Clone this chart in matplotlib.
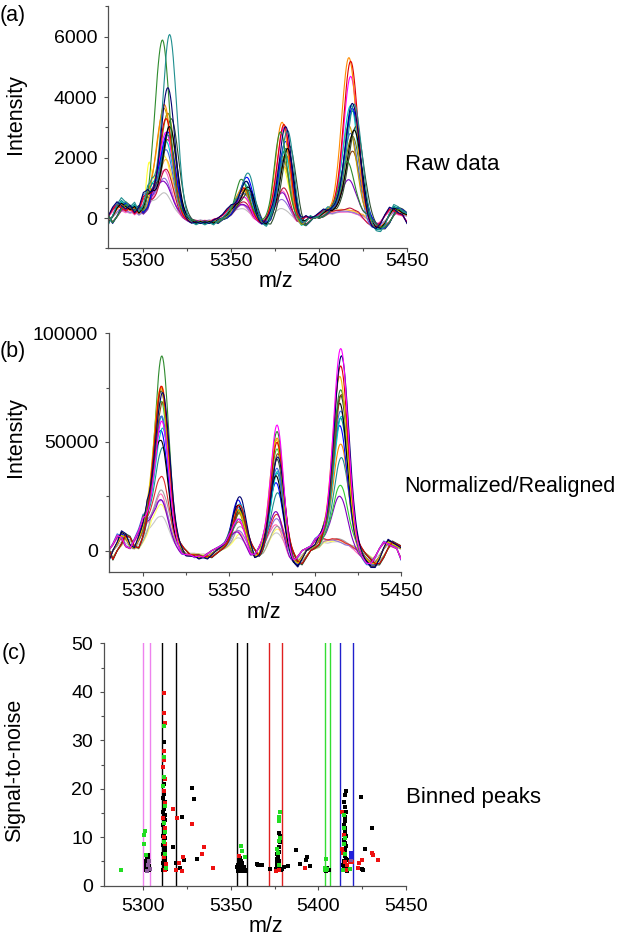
import numpy as np
import matplotlib
matplotlib.use('Agg')
import matplotlib.pyplot as plt
from matplotlib.ticker import MultipleLocator

plt.rcParams['font.family'] = ['Liberation Sans', 'DejaVu Sans']

W, H = 622, 939

# ---------------- data: panel (a) raw spectra ----------------
mz_start, mz_stop, mz_step = 5280, 5450, 2.5
raw_baseline = [-150, 50, 300, 450, 350, 250, 350, 150, 300, 700,
                750, 500, 350, 300, 250, 200, 150, 50, -50, -100,
                -150, -100, -150, -100, -150, -50, 0, 100, 250, 350,
                300, 250, 150, 50, -100, -150, -200, -50, 50, 50,
                0, 0, -50, -200, -250, -100, 50, 0, 50, 150,
                250, 200, 250, 250, 200, 150, 150, 100, 100, -50,
                -200, -300, -300, -150, 100, 300, 250, 150, 100]
raw_centers = [5303, 5312, 5357, 5379, 5417]
raw_widths = [1.5, 3.9, 3.3, 3.7, 4.1]
raw_colors = ['#c0c0c0', '#ffff33', '#ff66cc', '#9370db', '#8000c0', '#ffb040',
              '#c0143c', '#808000', '#8b4513', '#4169e1', '#c8a000', '#00c8c8',
              '#ff00ff', '#2f4f2f', '#008b8b', '#0000ff', '#ff8c00', '#e00000',
              '#000000', '#2e8b2e', '#1f8f8f', '#00006e']
raw_shift = [0, 0, 0, 0, 0, 1, 1, 2, 2, 1, 0, 1, 1, 4, 2, 2, 0, 1, 3, -1, 3, 2]
raw_h0 = [0, 1400, 0, 0, 0, 0, 0, 0, 0, 0, 0, 0, 0, 0, 0, 0, 0, 0, 0, 0, 0, 0]
raw_h1 = [650, 1750, 1400, 1100, 900, 1650, 1400, 3150, 2300, 2000, 3250,
          2200, 2600, 2950, 2400, 2500, 3450, 3050, 2750, 5450, 5700, 4050]
raw_h2 = [150, 450, 300, 250, 200, 550, 400, 650, 750, 650, 600,
          850, 550, 650, 950, 1050, 750, 850, 850, 950, 1250, 1100]
raw_h3 = [300, 1700, 900, 600, 800, 1700, 1000, 2000, 2100, 1900, 2000,
          2200, 3000, 2400, 2300, 2500, 3150, 3100, 2300, 2800, 2900, 3050]
raw_h4 = [100, 100, 100, 100, 1100, 100, 200, 2550, 2050, 2650, 2850,
          3550, 4550, 2850, 3350, 3450, 5150, 5050, 2750, 1650, 3550, 3650]
raw_bscale = [0.6, 0.8, 0.7, 0.7, 0.8, 1.0, 0.9, 1.0, 1.1, 1.1, 1.0,
              1.2, 1.0, 1.2, 1.3, 1.1, 1.0, 1.0, 1.1, 1.0, 1.5, 1.2]
raw_roll = [0, 1, -1, 0, 1, 0, -1, 1, 0, -1, 1, 0, -1, 1, 0, 1, 0, -1, 0, 1, 0, -1]

# ---------------- data: panel (b) normalized / realigned ----------------
norm_baseline = [-4000, 0, 3000, 7000, 6000, 2000, 1000, 5000, 9000, 14000,
                 12000, 9000, 5000, 4000, 3000, 2000, 1500, 0, -2000, -2000,
                 -2000, -3000, -2500, -3000, -1500, 0, 1000, 2000, 3000, 5000,
                 5000, 4000, 2000, 0, -3000, -2000, 1000, 3000, 3000, 2000,
                 1000, 0, -2000, -5000, -6000, -3000, 0, 1000, 2000, 5000,
                 6000, 5000, 5000, 4000, 3000, 2000, 2000, 1000, 0, -2000,
                 -4000, -6000, -6000, -3000, 1000, 4000, 3000, 2000, 1000]
norm_centers = [5311, 5356, 5378, 5415]
norm_widths = [4.0, 3.4, 3.6, 4.2]
norm_colors = ['#c8c8c8', '#ffff66', '#ff69b4', '#9370db', '#a0a0a0', '#e03030',
               '#8000c0', '#32cd32', '#1f8f8f', '#ff8c00', '#0000ff', '#008b8b',
               '#00c8c8', '#4169e1', '#000000', '#2f4f2f', '#8b4513', '#2e8b2e',
               '#e6c200', '#e00000', '#00006e', '#ff00ff']
norm_shift = [0, 0.5, -0.5, 0, 0.5, 0, -0.5, 0, 0.5, 0, -0.5, 0, 0.5, 0, -0.5, 0, 0.5, 0, -0.5, 0, 0.5, 0]
norm_h1 = [13000, 16000, 23000, 19000, 22000, 30000, 20000, 61000, 43000, 72000, 50000,
           54000, 52000, 58000, 45000, 65000, 64000, 86000, 70000, 68000, 67000, 56000]
norm_h2 = [3000, 4000, 6000, 5000, 7000, 9000, 5000, 12000, 10000, 14000, 18000,
           14000, 17000, 16000, 15000, 13000, 13000, 15000, 14000, 16000, 19000, 11000]
norm_h3 = [7000, 8000, 11000, 13000, 9000, 15000, 17000, 44000, 25000, 51000, 29000,
           33000, 35000, 37000, 32000, 39000, 43000, 54000, 49000, 47000, 41000, 57000]
norm_h4 = [2000, 1500, 3000, 1000, 2000, 2000, 23000, 26000, 40000, 47000, 54000,
           57000, 59000, 62000, 64000, 67000, 69000, 72000, 77000, 81000, 86000, 91000]
norm_bscale = [0.6, 0.7, 0.8, 0.9, 0.8, 0.9, 0.9, 1.0, 1.0, 1.0, 1.1,
               1.0, 1.0, 1.1, 1.2, 1.1, 1.0, 1.0, 1.0, 1.0, 1.3, 1.0]
norm_roll = [0, 1, -1, 0, 1, 0, -1, 1, 0, -1, 0, 1, 0, -1, 0, 1, 0, -1, 0, 1, 0, -1]

# ---------------- data: panel (c) binned peaks ----------------
bin_edges = [5300, 5303.8, 5310.8, 5318.7, 5353.3, 5359.4, 5371.6, 5379.4,
             5403.7, 5406.8, 5412.3, 5419.9]
bin_colors = ['#ee82ee', '#ee82ee', '#000000', '#000000', '#000000', '#000000',
              '#e02020', '#e02020', '#33dd33', '#33dd33', '#2020cc', '#2020cc']

black_mz = [5301.5, 5302.0, 5302.5, 5301.8, 5302.3, 5302.8, 5301.6, 5302.1, 5302.6, 5302.2,
            5302.5, 5303.0, 5303.2, 5301.3, 5303.1, 5301.4,
            5311.4, 5312.0, 5311.7, 5312.3, 5311.2, 5311.9, 5312.5, 5311.5, 5312.1, 5311.3,
            5311.8, 5312.4, 5311.6, 5312.2, 5311.4, 5312.0, 5311.7, 5312.3, 5311.2, 5311.9,
            5312.5, 5311.5, 5312.1, 5311.3, 5311.8, 5312.4, 5311.6, 5312.2, 5311.4, 5312.0,
            5311.7, 5312.3, 5311.2, 5311.9, 5311.6, 5312.6, 5312.8, 5311.5,
            5321.9, 5328.0, 5329.0, 5330.5, 5316.8, 5323.1, 5318.7, 5320.8,
            5354.0, 5354.6, 5355.2, 5355.8, 5354.3, 5355.0, 5355.6, 5354.4, 5355.3, 5354.8,
            5356.3, 5356.8, 5357.3, 5357.8, 5358.3, 5356.5, 5353.7, 5356.0,
            5365.5, 5367.6, 5372.3, 5364.7,
            5376.0, 5376.5, 5377.0, 5377.5, 5376.3, 5376.8, 5377.3, 5376.6, 5377.0, 5376.4,
            5377.2, 5377.7, 5377.9, 5377.7, 5378.0, 5378.5, 5379.0, 5375.8, 5376.2,
            5382.4, 5380.5, 5387.2, 5389.5, 5393.6, 5392.9, 5395.2,
            5404.3, 5405.3, 5404.8, 5405.8,
            5415.7, 5415.4, 5414.6, 5415.0, 5415.6, 5415.2, 5415.4, 5414.8, 5415.3, 5415.0,
            5415.5, 5414.7, 5415.2, 5415.6, 5414.9, 5415.4, 5415.0, 5415.8, 5414.6, 5415.3,
            5416.0, 5414.8, 5415.5, 5416.3, 5417.0, 5414.3, 5416.4,
            5424.3, 5430.6, 5426.6, 5425.3, 5424.6]
black_snr = [3.2, 3.5, 3.8, 4.1, 4.4, 4.7, 5.0, 5.3, 5.7, 6.1,
             6.4, 3.3, 4.0, 3.6, 5.1, 4.5,
             3.2, 3.6, 4.0, 4.3, 4.7, 5.0, 5.4, 5.8, 6.1, 6.5,
             6.9, 7.3, 7.7, 8.0, 8.4, 8.9, 9.3, 9.8, 10.2, 10.7,
             11.1, 11.6, 12.0, 12.5, 13.0, 13.5, 14.0, 14.6, 15.2, 15.8,
             16.5, 17.2, 18.0, 19.0, 29.7, 4.2, 3.5, 21.0,
             14.2, 20.2, 17.9, 5.6, 8.0, 5.2, 4.7, 3.6,
             3.0, 3.3, 3.6, 3.9, 4.2, 4.5, 4.9, 5.3, 5.7, 6.1,
             3.1, 3.4, 3.8, 3.2, 3.0, 4.6, 3.8, 5.0,
             4.3, 4.3, 3.4, 4.4,
             3.0, 3.3, 3.6, 3.9, 4.3, 4.7, 5.1, 5.5, 6.0, 6.5,
             7.0, 8.0, 9.0, 10.8, 10.3, 3.2, 3.5, 3.4, 5.0,
             4.1, 3.9, 7.4, 4.4, 6.0, 5.3, 4.1,
             3.1, 3.3, 3.6, 3.2,
             19.5, 18.7, 17.3, 16.3, 15.3, 14.2, 13.4, 12.6, 11.8, 11.0,
             10.2, 9.5, 8.8, 8.1, 7.4, 6.8, 6.2, 5.6, 5.1, 4.6,
             4.1, 3.7, 3.3, 3.0, 3.4, 4.3, 5.4,
             18.2, 11.9, 7.6, 3.2, 3.4]
red_mz = [5311.8, 5311.5, 5312.2, 5311.6, 5311.9, 5311.3, 5312.1, 5311.7, 5312.4, 5311.4,
          5312.2, 5312.0, 5312.5, 5311.6, 5312.8, 5312.2,
          5317.1, 5319.4, 5328.0, 5334.8, 5333.4, 5322.5, 5320.2, 5322.1, 5318.7, 5339.6,
          5354.5, 5376.0, 5377.4, 5392.5,
          5413.6, 5413.5, 5414.2, 5414.9, 5416.5, 5416.0, 5414.5,
          5430.4, 5431.3, 5433.8, 5425.1, 5423.3, 5422.4, 5418.0, 5419.0]
red_snr = [39.8, 35.6, 33.5, 27.8, 25.9, 24.5, 22.0, 19.5, 17.0, 14.0,
           12.0, 10.0, 8.5, 6.0, 4.5, 3.3,
           15.8, 13.9, 12.8, 8.0, 6.5, 5.9, 4.6, 3.0, 3.2, 3.7,
           6.2, 3.1, 3.3, 3.6,
           15.2, 7.5, 6.8, 4.9, 4.3, 3.2, 10.5,
           6.8, 6.3, 5.4, 5.4, 4.7, 3.7, 4.9, 4.8]
green_mz = [5287.1, 5300.9, 5300.6, 5300.6, 5301.5,
            5311.7, 5311.5, 5312.0, 5311.3, 5312.3, 5311.8, 5312.4, 5311.5, 5312.6, 5312.9,
            5356.0, 5356.2, 5358.0,
            5378.2, 5377.5, 5377.3, 5378.0, 5377.5, 5376.5, 5376.8, 5377.2,
            5403.8, 5404.1, 5404.5, 5405.0, 5403.5,
            5414.6, 5414.8, 5415.0, 5414.4, 5415.2, 5414.0, 5418.0]
green_snr = [3.2, 11.3, 10.5, 8.6, 6.3,
             33.0, 26.5, 22.5, 20.5, 16.5, 13.0, 11.0, 9.0, 6.5, 3.6,
             8.2, 7.2, 5.9,
             15.3, 14.2, 13.3, 9.9, 9.2, 7.5, 6.8, 4.2,
             3.6, 5.6, 3.3, 3.5, 3.2,
             14.5, 12.0, 9.8, 8.5, 6.5, 3.3, 3.4]
purple_mz = [5302.8, 5303.5, 5303.3, 5301.9, 5418.5]
purple_snr = [4.3, 3.5, 5.0, 3.1, 5.2]
blue_mz = [5418.8, 5418.6]
blue_snr = [6.7, 5.9]

# ---------------- figure ----------------
fig = plt.figure(figsize=(W / 100, H / 100), dpi=100)

def rect(left, right, top, bottom):
    return [left / W, 1 - bottom / H, (right - left) / W, (bottom - top) / H]

ax_a = fig.add_axes(rect(108.2, 407, 6.5, 248.3))
ax_b = fig.add_axes(rect(108.6, 401, 333.3, 572.3))
ax_c = fig.add_axes(rect(104, 406, 643.3, 885.7))

spine_col = '#505050'
tick_fs = 14
label_fs = 15.5

def style(ax, xpad, ypad):
    for s in ['top', 'right']:
        ax.spines[s].set_visible(False)
    for s in ['left', 'bottom']:
        ax.spines[s].set_color(spine_col)
        ax.spines[s].set_linewidth(0.9)
    ax.tick_params(which='both', direction='out', color=spine_col, width=0.8,
                   labelsize=tick_fs, labelcolor='black')
    ax.tick_params(which='major', length=3)
    ax.tick_params(which='minor', length=2.5)
    ax.tick_params(axis='x', which='major', pad=xpad)
    ax.tick_params(axis='y', which='major', pad=ypad)
    ax.xaxis.set_major_locator(MultipleLocator(50))
    ax.xaxis.set_minor_locator(MultipleLocator(25))

mz = np.arange(mz_start, mz_stop + mz_step / 2, mz_step)
mz_fine = np.arange(mz_start, mz_stop + 0.25, 0.5)

def gauss(center, width):
    return np.exp(-0.5 * ((mz_fine - center) / width) ** 2)

def spectrum(base, roll, scale, centers, widths, heights, shift):
    y = np.interp(mz_fine, mz, np.roll(base, roll) * scale)
    for c, w, h in zip(centers, widths, heights):
        y = y + h * gauss(c + shift, w)
    return y

# panel (a)
base_a = np.array(raw_baseline, dtype=float)
for i, col in enumerate(raw_colors):
    heights = [raw_h0[i], raw_h1[i], raw_h2[i], raw_h3[i], raw_h4[i]]
    y = spectrum(base_a, raw_roll[i], raw_bscale[i], raw_centers, raw_widths,
                 heights, raw_shift[i])
    ax_a.plot(mz_fine, y, color=col, lw=0.8)
ax_a.set_xlim(5280, 5450)
ax_a.set_ylim(-1000, 7000)
style(ax_a, xpad=0.5, ypad=4.8)
ax_a.set_yticks([0, 2000, 4000, 6000])
ax_a.yaxis.set_minor_locator(MultipleLocator(1000))

# panel (b)
base_b = np.array(norm_baseline, dtype=float)
for i, col in enumerate(norm_colors):
    heights = [norm_h1[i], norm_h2[i], norm_h3[i], norm_h4[i]]
    y = spectrum(base_b, norm_roll[i], norm_bscale[i], norm_centers, norm_widths,
                 heights, norm_shift[i])
    ax_b.plot(mz_fine, y, color=col, lw=0.8)
ax_b.set_xlim(5280, 5450)
ax_b.set_ylim(-10000, 100000)
style(ax_b, xpad=4.5, ypad=4.5)
ax_b.set_yticks([0, 50000, 100000])
ax_b.yaxis.set_minor_locator(MultipleLocator(25000))

# panel (c)
for xe, col in zip(bin_edges, bin_colors):
    ax_c.axvline(xe, color=col, lw=1.0, zorder=1)
mk = dict(s=6, marker='s', linewidths=0)
ax_c.scatter(black_mz, black_snr, color='black', zorder=3, **mk)
ax_c.scatter(red_mz, red_snr, color='#ee1111', zorder=4, **mk)
ax_c.scatter(green_mz, green_snr, color='#22dd22', zorder=4, **mk)
ax_c.scatter(purple_mz, purple_snr, color='#8a5a9a', zorder=4, **mk)
ax_c.scatter(blue_mz, blue_snr, color='#2020dd', zorder=4, **mk)
ax_c.set_xlim(5277.5, 5450)
ax_c.set_ylim(0, 50)
style(ax_c, xpad=5.5, ypad=5.0)
ax_c.yaxis.set_major_locator(MultipleLocator(10))
ax_c.yaxis.set_minor_locator(MultipleLocator(5))

# labels
def ftext(x, y, s, **kw):
    fig.text(x / W, 1 - y / H, s, **kw)

ftext(16, 114, 'Intensity', rotation=90, ha='center', va='center', fontsize=label_fs)
ftext(16, 437, 'Intensity', rotation=90, ha='center', va='center', fontsize=label_fs)
ftext(15, 770, 'Signal-to-noise', rotation=90, ha='center', va='center', fontsize=label_fs)
ftext(276, 281, 'm/z', ha='center', va='center', fontsize=label_fs)
ftext(264, 613, 'm/z', ha='center', va='center', fontsize=label_fs)
ftext(266, 927, 'm/z', ha='center', va='center', fontsize=label_fs)
ftext(0, 16, '(a)', ha='left', va='center', fontsize=label_fs)
ftext(0, 351, '(b)', ha='left', va='center', fontsize=label_fs)
ftext(2, 654, '(c)', ha='left', va='center', fontsize=label_fs)
ftext(405, 170, 'Raw data', ha='left', va='baseline', fontsize=16)
ftext(404, 491.7, 'Normalized/Realigned', ha='left', va='baseline', fontsize=15.5)
ftext(405.7, 803.3, 'Binned peaks', ha='left', va='baseline', fontsize=16)

fig.savefig('out.png', dpi=100)
